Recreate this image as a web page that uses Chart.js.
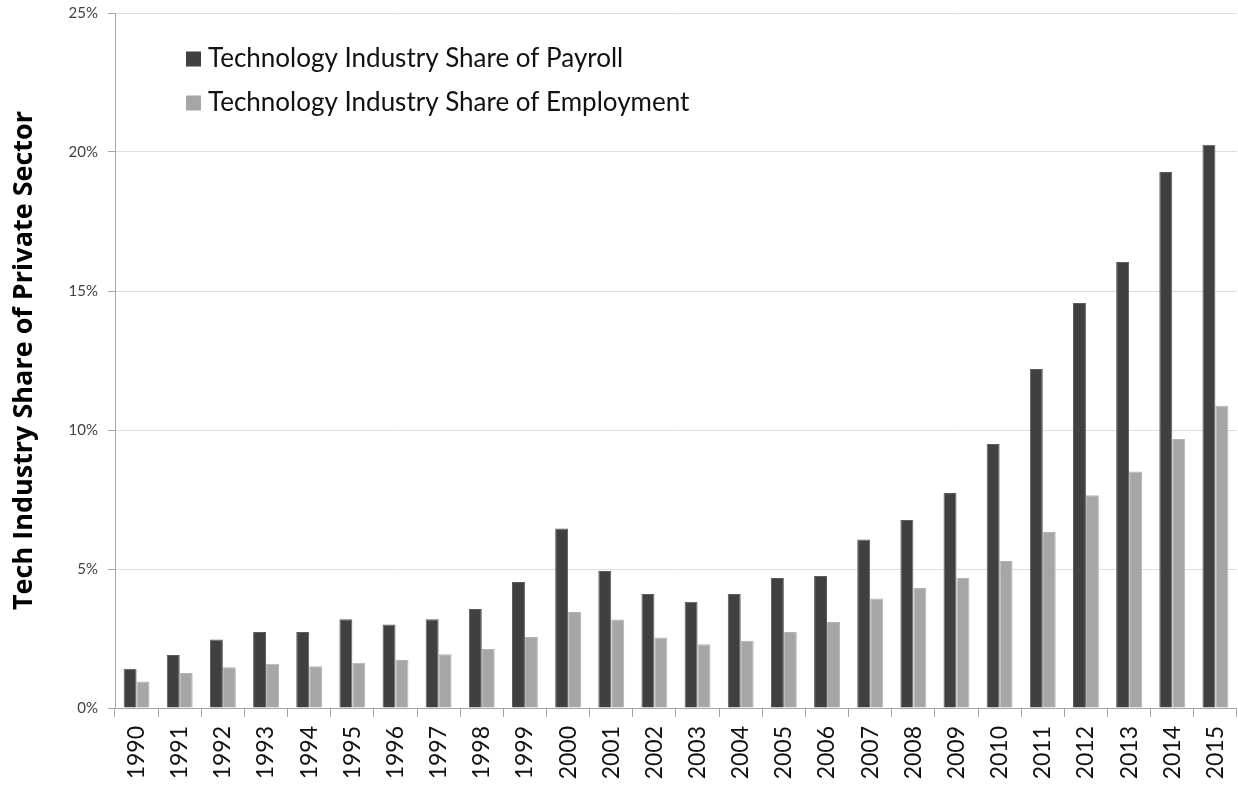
<!DOCTYPE html>
<html>
<head>
<meta charset="utf-8">
<script src="https://cdn.jsdelivr.net/npm/chart.js@4.4.1/dist/chart.umd.min.js"></script>
<style>
    html, body { margin: 0; padding: 0; background: #fff; overflow: hidden; }
    #wrap { width: 1238px; height: 786px; overflow: hidden; }
</style>
</head>
<body>
<div id="wrap"><canvas id="chart" width="1252" height="786"></canvas></div>
<script>
const years = ['1990', '1991', '1992', '1993', '1994', '1995', '1996', '1997', '1998', '1999',
    '2000', '2001', '2002', '2003', '2004', '2005', '2006', '2007', '2008', '2009',
    '2010', '2011', '2012', '2013', '2014', '2015'];
const payrollShare = [1.41, 1.91, 2.46, 2.73, 2.73, 3.19, 3.00, 3.19, 3.56, 4.53,
    6.46, 4.93, 4.10, 3.82, 4.10, 4.68, 4.75, 6.06, 6.76, 7.73,
    9.50, 12.19, 14.57, 16.04, 19.28, 20.26];
const employmentShare = [0.95, 1.26, 1.47, 1.59, 1.50, 1.63, 1.73, 1.93, 2.12, 2.55,
    3.45, 3.18, 2.54, 2.29, 2.42, 2.73, 3.09, 3.94, 4.32, 4.68,
    5.29, 6.33, 7.65, 8.51, 9.68, 10.87];
const seriesLabels = ['Technology Industry Share of Payroll', 'Technology Industry Share of Employment'];
const yTicks = [0, 5, 10, 15, 20, 25];

const FONT = 'Lato, "Open Sans", sans-serif';

// legend drawn inside the plot, top-left, one entry per line
const insideLegend = {
    id: 'insideLegend',
    afterDraw(chart) {
        const { ctx, chartArea } = chart;
        ctx.save();
        ctx.font = '26px ' + FONT;
        ctx.textBaseline = 'middle';
        chart.data.datasets.forEach((ds, i) => {
            const x = chartArea.left + 71;
            const y = chartArea.top + 46 + i * 44;
            ctx.fillStyle = ds.backgroundColor;
            ctx.fillRect(x, y - 7.5, 15, 15);
            ctx.fillStyle = '#111';
            ctx.fillText(ds.label, x + 22, y);
        });
        ctx.restore();
    }
};

new Chart(document.getElementById('chart'), {
    type: 'bar',
    data: {
        labels: years,
        datasets: [
            {
                label: seriesLabels[0],
                data: payrollShare,
                backgroundColor: '#404040',
                borderColor: '#5c5c5c',
                borderWidth: 1,
            },
            {
                label: seriesLabels[1],
                data: employmentShare,
                backgroundColor: '#a6a6a6',
                borderColor: '#b4b4b4',
                borderWidth: 1,
            },
        ],
    },
    options: {
        responsive: false,
        animation: false,
        layout: { padding: { top: 13, right: 0, bottom: 0, left: 0 } },
        datasets: {
            bar: { categoryPercentage: 0.6, barPercentage: 1.0 },
        },
        scales: {
            x: {
                grid: {
                    offset: true,
                    drawOnChartArea: false,
                    drawTicks: true,
                    tickLength: 9,
                    color: '#a6a6a6',
                },
                border: { color: '#a6a6a6', width: 1 },
                ticks: {
                    minRotation: 90,
                    maxRotation: 90,
                    autoSkip: false,
                    padding: 9,
                    color: '#111',
                    font: { family: FONT, size: 23 },
                },
                afterFit: (scale) => { scale.height = 78; },
            },
            y: {
                min: 0,
                max: 25,
                afterBuildTicks: (scale) => { scale.ticks = yTicks.map(v => ({ value: v })); },
                grid: {
                    color: '#dedede',
                    tickColor: '#a6a6a6',
                    tickLength: 7,
                },
                border: { color: '#a6a6a6', width: 1 },
                ticks: {
                    padding: 10,
                    color: '#404040',
                    font: { family: FONT, size: 15 },
                    callback: (v) => v + '%',
                },
                title: {
                    display: true,
                    text: 'Tech Industry Share of Private Sector',
                    color: '#000',
                    font: { family: '"Open Sans", sans-serif', size: 27, weight: 'bold' },
                    padding: { top: 8, bottom: 0 },
                },
                afterFit: (scale) => {
                    scale.width = 115;
                    scale.paddingTop = 0;
                    scale.paddingBottom = 0;
                },
            },
        },
        plugins: {
            legend: { display: false },
            tooltip: { enabled: false },
        },
    },
    plugins: [insideLegend],
});
</script>
</body>
</html>
